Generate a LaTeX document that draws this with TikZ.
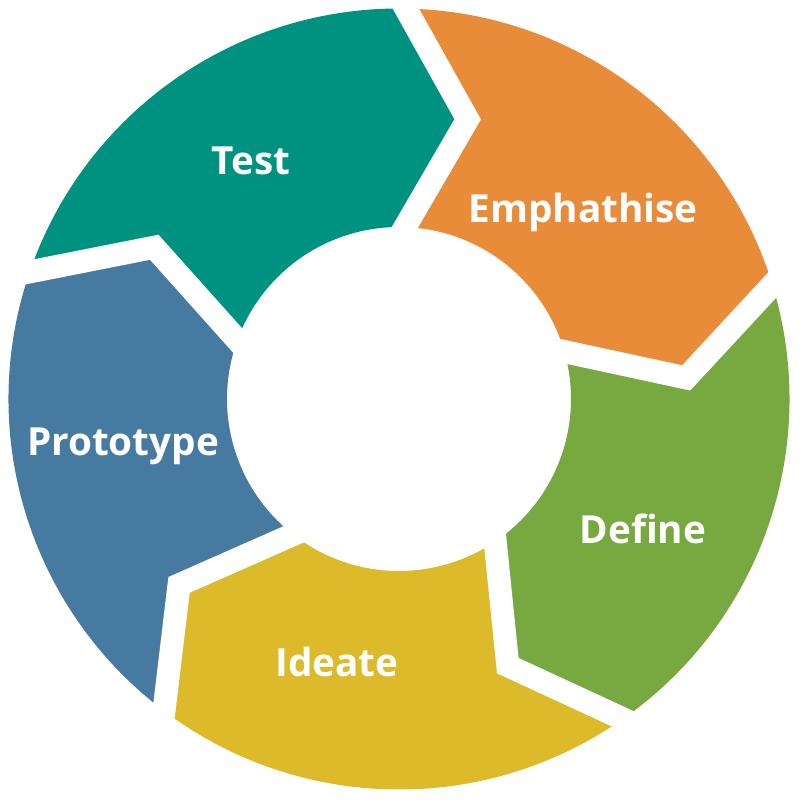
\documentclass[tikz,border=0pt]{standalone}
\usepackage{fontspec}
\setmainfont{Open Sans}
\usetikzlibrary{calc}
\definecolor{testcol}{RGB}{0,146,128}
\definecolor{empcol}{RGB}{232,140,58}
\definecolor{defcol}{RGB}{120,168,64}
\definecolor{ideacol}{RGB}{221,186,42}
\definecolor{protcol}{RGB}{70,122,160}

\begin{document}
\begin{tikzpicture}[x=0.01cm, y=0.01cm,
  every node/.style={font=\bfseries\fontsize{11}{13}\selectfont, text=white, anchor=base},
  gap/.style={draw=white, line width=0.23cm, line join=miter}]
\useasboundingbox (-399,-401) rectangle (401,399);
% ring segments, clockwise from Test
\foreach \a/\col in {161/testcol, 89/empcol, 17/defcol, -55/ideacol, -127/protcol} {
  \pgfmathsetmacro{\b}{\a-72}
  \fill[\col] (\a:390.5) arc[start angle=\a, end angle=\b, radius=390.5]
    -- ({\b-12.8}:288) -- ({\b-1}:172) arc[start angle=\b-1, end angle=\a-1, radius=172]
    -- ({\a-12.8}:288) -- cycle;
}
% white gaps between the segments
\foreach \a in {161,89,17,-55,-127} {
  \coordinate (o) at (\a:390.5);
  \coordinate (t) at ({\a-12.8}:288);
  \coordinate (i) at ({\a-1}:172);
  \draw[gap] ($(t)!1.3!(o)$) -- (t) -- ($(t)!1.3!(i)$);
}
\node (test) at (-148,224) {Test};
\node (empathise) at (184,176) {Emphathise};
\node (define) at (244,-144) {Define};
\node (ideate) at (-62,-277) {Ideate};
\node (prototype) at (-276,-56) {Prototype};
\end{tikzpicture}
\end{document}
